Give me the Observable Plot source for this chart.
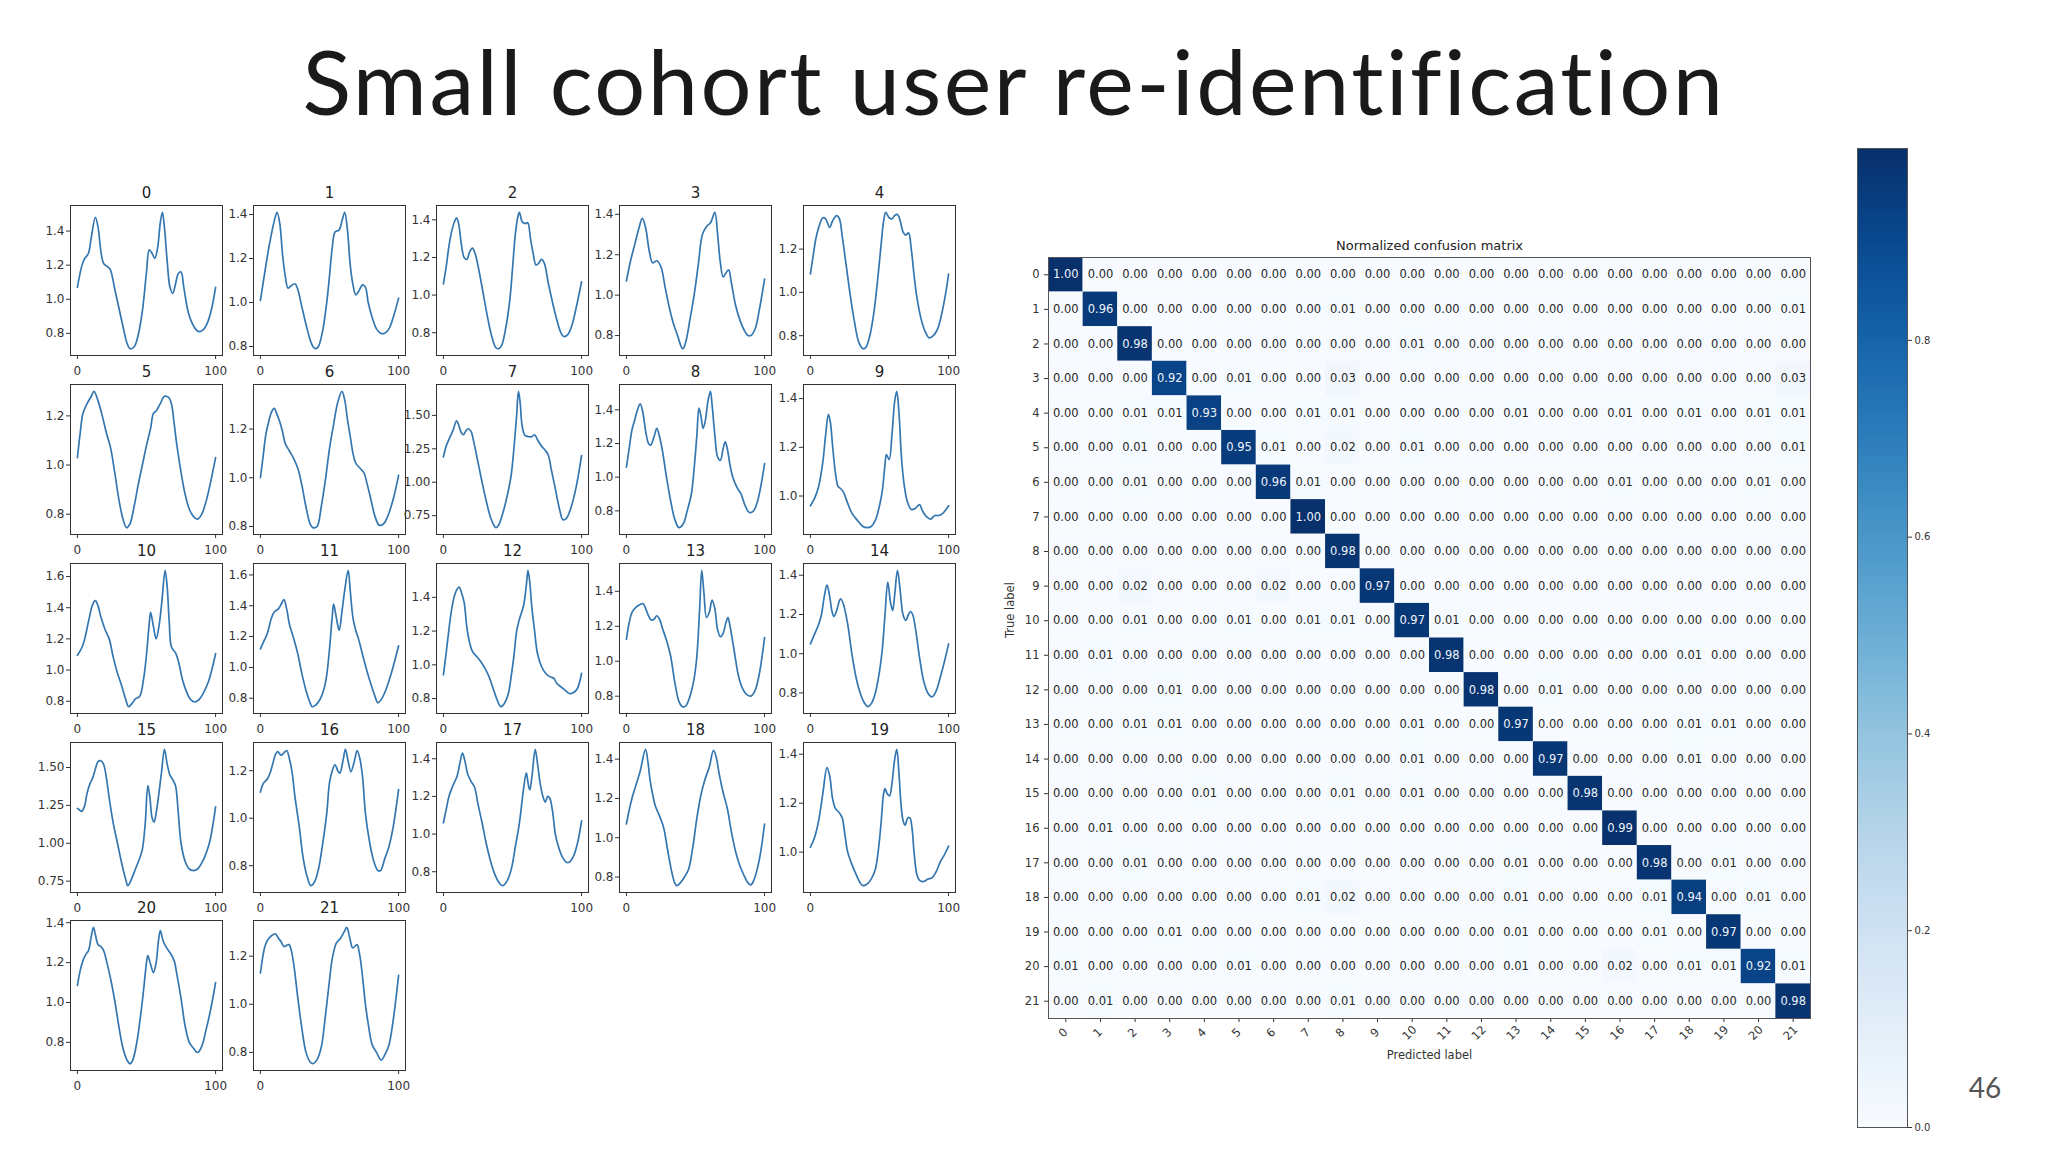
<!DOCTYPE html>
<html><head><meta charset="utf-8">
<script src="https://cdn.jsdelivr.net/npm/d3@7"></script>
<script src="https://cdn.jsdelivr.net/npm/@observablehq/plot@0.6"></script>
<style>
html,body{margin:0;padding:0;background:#fff;}
#slide{position:relative;width:2048px;height:1152px;overflow:hidden;background:#fff;font-family:"DejaVu Sans",sans-serif;}
.abs{position:absolute;}
#title{position:absolute;left:-10px;top:25px;width:2048px;text-align:center;font-family:Lato,"Open Sans",sans-serif;font-size:90px;line-height:110px;color:#1a1a1a;letter-spacing:2.5px;white-space:nowrap;}
#page{position:absolute;left:1960px;top:1070px;width:50px;text-align:center;font-family:Lato,sans-serif;font-size:28px;color:#555;}
</style></head>
<body><div id="slide"><div id="title">Small cohort user re-identification</div><div id="page">46</div></div>
<script>
// ---------- small-multiple signals: [t, value] ----------
const P0=[[0,1.07],[3,1.19],[5,1.235],[8,1.27],[10,1.36],[13,1.48],[15,1.42],[17,1.28],[19,1.21],[22,1.19],[24,1.17],[27,1.06],[30,0.95],[33,0.84],[36,0.74],[38,0.71],[41,0.72],[44,0.79],[47,0.93],[50,1.16],[52,1.29],[54,1.27],[56,1.24],[58,1.3],[60,1.45],[61.5,1.51],[63,1.42],[65,1.22],[67,1.07],[69,1.035],[71,1.09],[73,1.15],[75,1.16],[77,1.07],[80,0.93],[83,0.86],[86,0.82],[88,0.81],[91,0.82],[94,0.86],[97,0.94],[100,1.07]];
const P1=[[0,1.01],[2,1.09],[4,1.17],[7,1.28],[10,1.37],[12,1.41],[14,1.36],[16,1.22],[18,1.12],[20,1.065],[22,1.075],[25,1.085],[27,1.06],[30,0.98],[33,0.9],[36,0.83],[38,0.8],[40,0.79],[42,0.8],[45,0.87],[48,1.0],[50,1.12],[52,1.25],[54,1.32],[57,1.33],[59,1.37],[61,1.41],[63,1.33],[65,1.17],[67,1.08],[69,1.035],[71,1.05],[74,1.08],[76,1.07],[78,1.0],[81,0.93],[84,0.88],[87,0.86],[90,0.86],[93,0.88],[96,0.93],[100,1.02]];
const P2=[[0,1.06],[2,1.15],[4,1.26],[6,1.34],[8,1.39],[9.5,1.41],[11,1.38],[13,1.27],[15,1.2],[17,1.19],[19,1.23],[21,1.25],[23,1.22],[26,1.12],[29,1.0],[32,0.88],[35,0.78],[38,0.72],[40,0.715],[42,0.73],[45,0.82],[48,0.97],[50,1.14],[52,1.32],[54,1.42],[55,1.44],[57,1.39],[59,1.38],[61,1.385],[63,1.3],[65,1.22],[67,1.16],[69,1.17],[71,1.19],[73,1.17],[76,1.06],[79,0.96],[82,0.87],[85,0.8],[87,0.78],[90,0.79],[93,0.84],[96,0.93],[100,1.07]];
const P3=[[0,1.07],[3,1.17],[6,1.25],[9,1.33],[11.5,1.38],[14,1.33],[16.5,1.22],[19,1.16],[22,1.17],[25,1.14],[28,1.04],[31,0.94],[34,0.86],[37,0.8],[40,0.74],[41,0.735],[43,0.77],[46,0.88],[49,1.0],[52,1.15],[55,1.3],[58,1.34],[61,1.36],[64,1.41],[66,1.3],[68,1.16],[70,1.09],[72,1.11],[74,1.125],[76,1.06],[79,0.95],[82,0.88],[85,0.83],[88,0.8],[90,0.8],[93,0.83],[96,0.92],[100,1.08]];
const P4=[[0,1.085],[2,1.17],[4,1.25],[6,1.3],[9,1.345],[11,1.34],[14,1.3],[16,1.33],[19,1.355],[21,1.34],[23,1.26],[26,1.12],[29,0.98],[32,0.86],[35,0.77],[38,0.74],[40,0.745],[43,0.8],[46,0.91],[49,1.08],[51,1.21],[53,1.33],[54.5,1.37],[57,1.345],[59,1.34],[61,1.355],[63,1.36],[65,1.33],[67,1.28],[69,1.265],[71,1.275],[73,1.2],[75,1.08],[77,0.98],[80,0.88],[83,0.82],[86,0.79],[89,0.8],[92,0.83],[95,0.9],[98,1.0],[100,1.085]];
const P5=[[0,1.03],[2,1.13],[4,1.21],[7,1.25],[10,1.28],[12,1.3],[15,1.26],[18,1.2],[21,1.13],[24,1.07],[27,0.97],[30,0.86],[33,0.78],[35.5,0.745],[38,0.76],[41,0.83],[44,0.92],[47,1.0],[50,1.08],[53,1.15],[55,1.21],[57,1.22],[60,1.25],[63,1.28],[66,1.275],[68,1.25],[70,1.17],[72,1.08],[75,0.97],[78,0.88],[81,0.82],[84,0.79],[87,0.78],[90,0.8],[93,0.85],[96,0.92],[100,1.03]];
const P6=[[0,1.0],[2,1.09],[4,1.18],[6,1.23],[8,1.27],[10,1.285],[12,1.26],[14,1.23],[16,1.19],[18,1.14],[21,1.11],[24,1.08],[27,1.04],[30,0.97],[33,0.88],[36,0.81],[38,0.795],[41,0.8],[44,0.88],[47,0.99],[50,1.12],[53,1.22],[56,1.31],[59,1.355],[61,1.32],[63,1.24],[65,1.17],[67,1.1],[69,1.06],[72,1.04],[75,1.02],[77,0.98],[80,0.91],[83,0.84],[86,0.805],[89,0.81],[92,0.84],[96,0.91],[100,1.01]];
const P7=[[0,1.19],[2,1.27],[4,1.32],[7,1.39],[9.5,1.46],[11,1.43],[13,1.37],[14.5,1.355],[16,1.38],[18,1.4],[20,1.38],[22,1.3],[25,1.15],[28,1.0],[31,0.86],[34,0.74],[37,0.67],[38,0.66],[40,0.68],[43,0.77],[46,0.89],[49,1.05],[51,1.25],[53,1.5],[54.3,1.68],[55.5,1.6],[57,1.42],[59,1.35],[62,1.34],[64,1.34],[66,1.355],[68,1.32],[71,1.27],[74,1.235],[76,1.2],[78,1.1],[81,0.95],[84,0.8],[86.5,0.72],[89,0.73],[92,0.8],[96,0.96],[100,1.2]];
const P8=[[0,1.06],[2,1.17],[4,1.28],[6,1.34],[8,1.4],[10,1.435],[12,1.38],[14,1.27],[16,1.2],[17.5,1.19],[20,1.24],[22,1.29],[24,1.24],[26,1.16],[29,1.0],[32,0.86],[35,0.75],[38,0.7],[41,0.72],[44,0.8],[47,0.9],[49,1.05],[51,1.25],[52.5,1.41],[54,1.36],[55.5,1.29],[57,1.33],[59,1.45],[60.8,1.51],[62,1.43],[64,1.25],[66,1.12],[68,1.1],[70,1.17],[71.5,1.21],[73,1.17],[75,1.07],[77,1.0],[80,0.94],[83,0.9],[86,0.83],[89,0.79],[92,0.8],[95,0.86],[100,1.08]];
const P9=[[0,0.96],[3,0.99],[6,1.04],[9,1.14],[11,1.25],[13,1.335],[14.5,1.3],[16,1.21],[18,1.1],[20,1.04],[22,1.03],[24,1.015],[27,0.97],[30,0.93],[34,0.9],[38,0.875],[41,0.87],[44,0.875],[47,0.9],[50,0.96],[52,1.02],[54,1.13],[55,1.17],[57,1.15],[59,1.25],[61,1.39],[62.5,1.43],[64,1.35],[66,1.15],[68,1.04],[70,0.98],[73,0.945],[76,0.95],[79,0.965],[81,0.94],[84,0.915],[87,0.905],[90,0.92],[93,0.92],[96,0.93],[100,0.96]];
const P10=[[0,1.095],[3,1.14],[5,1.19],[8,1.31],[11,1.42],[13,1.445],[15,1.41],[17,1.34],[20,1.26],[23,1.2],[26,1.08],[29,0.98],[32,0.9],[35,0.81],[37,0.765],[39,0.78],[42,0.815],[45,0.83],[48,0.95],[50,1.1],[52,1.3],[53,1.37],[55,1.28],[57,1.2],[59,1.28],[61,1.43],[63.5,1.64],[65,1.53],[66.5,1.3],[68,1.15],[71,1.11],[73,1.06],[76,0.94],[79,0.86],[82,0.81],[85,0.795],[88,0.81],[91,0.85],[95,0.93],[100,1.105]];
const P11=[[0,1.12],[3,1.18],[5,1.22],[8,1.32],[10,1.36],[13,1.38],[15,1.41],[17,1.44],[19,1.38],[21,1.28],[24,1.19],[27,1.09],[30,0.96],[33,0.85],[36,0.77],[37.5,0.745],[40,0.755],[43,0.79],[46,0.86],[48,0.95],[50,1.12],[52,1.33],[53,1.41],[55,1.32],[57,1.24],[59,1.36],[61,1.5],[63.5,1.63],[65,1.5],[67,1.32],[69,1.24],[71,1.185],[74,1.08],[77,0.98],[80,0.89],[83,0.81],[85,0.77],[88,0.8],[91,0.86],[95,0.97],[100,1.14]];
const P12=[[0,0.94],[2,1.07],[4,1.21],[6,1.33],[8,1.41],[10,1.45],[11.5,1.46],[13,1.43],[15,1.37],[17,1.22],[19,1.13],[21,1.08],[24,1.05],[27,1.02],[30,0.98],[33,0.93],[36,0.86],[39,0.79],[41.5,0.752],[44,0.77],[47,0.83],[49,0.93],[51,1.05],[53,1.2],[55,1.27],[58,1.35],[60,1.47],[61.2,1.56],[62.5,1.49],[64,1.34],[66,1.2],[68,1.07],[71,0.99],[74,0.95],[77,0.93],[80,0.92],[82,0.89],[85,0.87],[88,0.85],[91,0.83],[94,0.835],[97,0.86],[100,0.95]];
const P13=[[0,1.125],[2,1.22],[4,1.28],[7,1.31],[10,1.325],[12,1.33],[14,1.3],[16,1.26],[18,1.235],[20,1.24],[22,1.26],[24,1.24],[26,1.19],[29,1.12],[32,1.03],[35,0.88],[38,0.77],[40.5,0.74],[43,0.745],[46,0.8],[49,0.9],[51,1.03],[53,1.3],[54.5,1.52],[56,1.4],[58,1.25],[60,1.28],[62,1.35],[64,1.3],[66,1.18],[68,1.14],[70,1.16],[72,1.22],[73.5,1.25],[75,1.2],[78,1.06],[81,0.92],[84,0.845],[87,0.81],[90,0.8],[93,0.83],[96,0.92],[100,1.135]];
const P14=[[0,1.05],[3,1.1],[6,1.15],[8,1.2],[10,1.29],[12,1.35],[14,1.29],[15.5,1.22],[17,1.19],[19,1.22],[21,1.27],[22,1.28],[24,1.25],[27,1.15],[30,1.0],[33,0.88],[36,0.8],[39,0.75],[41.5,0.73],[44,0.745],[47,0.8],[50,0.91],[52,1.02],[54,1.2],[56,1.365],[58,1.26],[59.5,1.22],[61,1.3],[63,1.425],[65,1.32],[67,1.2],[69,1.17],[71,1.2],[72.5,1.215],[74,1.2],[76,1.13],[79,0.98],[82,0.86],[85,0.8],[88,0.78],[91,0.81],[94,0.88],[97,0.96],[100,1.05]];
const P15=[[0,1.23],[1.5,1.22],[3,1.21],[5,1.24],[7,1.33],[9,1.39],[11,1.43],[13,1.49],[15,1.54],[17,1.545],[19,1.52],[21,1.43],[23,1.3],[26,1.13],[29,1.0],[32,0.87],[35,0.76],[36.5,0.72],[39,0.76],[42,0.83],[45,0.9],[47,0.96],[49,1.12],[51,1.38],[52.5,1.3],[54,1.17],[55.5,1.14],[57,1.2],[59,1.33],[61,1.48],[63,1.62],[65,1.52],[67,1.45],[69,1.42],[71,1.38],[73,1.2],[75,1.0],[78,0.88],[81,0.83],[84,0.82],[87,0.83],[90,0.87],[93,0.93],[96,1.02],[100,1.24]];
const P16=[[0,1.11],[2,1.145],[5,1.165],[7,1.19],[9,1.23],[11,1.27],[12.5,1.28],[15,1.265],[17,1.275],[19,1.285],[21,1.25],[23,1.19],[25,1.09],[28,0.97],[31,0.83],[34,0.75],[36.5,0.716],[39,0.73],[42,0.785],[45,0.89],[48,1.02],[50,1.15],[52,1.2],[54,1.225],[56,1.2],[57.5,1.19],[60,1.25],[61.5,1.29],[63.5,1.24],[65.5,1.196],[68,1.24],[70,1.285],[72,1.25],[74,1.17],[76,1.02],[79,0.9],[82,0.82],[85,0.78],[87,0.78],[90,0.83],[93,0.88],[96,0.96],[100,1.12]];
const P17=[[0,1.06],[2,1.13],[4,1.2],[7,1.26],[10,1.31],[12,1.38],[13.8,1.43],[15.5,1.39],[17.5,1.32],[20,1.28],[22.5,1.25],[25,1.16],[28,1.06],[31,0.95],[34,0.86],[37,0.79],[40,0.745],[43,0.726],[46,0.75],[49,0.81],[52,0.93],[55,1.06],[58,1.24],[60,1.325],[61.5,1.26],[62.5,1.235],[64,1.3],[66.4,1.45],[68,1.38],[70,1.27],[72,1.2],[73.7,1.17],[75.5,1.2],[77,1.19],[79,1.12],[81,1.0],[83,0.94],[86,0.88],[89,0.85],[91,0.85],[94,0.88],[97,0.95],[100,1.07]];
const P18=[[0,1.07],[2,1.14],[4,1.2],[7,1.27],[10,1.34],[13.8,1.45],[15.5,1.39],[17,1.3],[19,1.22],[21,1.16],[24,1.11],[27,1.05],[30,0.93],[33,0.82],[35,0.77],[36.5,0.756],[39,0.77],[42,0.8],[45,0.84],[48,0.95],[51,1.1],[54,1.22],[57,1.3],[60,1.36],[63,1.445],[65,1.41],[67,1.33],[70,1.23],[73,1.15],[76,1.03],[79,0.93],[82,0.86],[85,0.81],[88,0.77],[90,0.76],[92,0.78],[95,0.85],[97,0.92],[100,1.07]];
const P19=[[0,1.02],[3,1.06],[6,1.13],[9,1.24],[12,1.345],[14,1.31],[16,1.22],[18,1.18],[21,1.16],[23,1.14],[25,1.07],[27,1.0],[30,0.95],[33,0.91],[36,0.875],[38,0.863],[41,0.87],[44,0.89],[47,0.93],[49,1.0],[51,1.11],[53,1.24],[54,1.26],[55.5,1.24],[57.3,1.23],[59,1.28],[61,1.38],[62.5,1.42],[64,1.33],[65.5,1.2],[67,1.13],[68.5,1.11],[70.5,1.14],[72,1.14],[73.5,1.1],[75,1.0],[77,0.91],[79,0.885],[82,0.88],[85,0.89],[88,0.895],[91,0.92],[94,0.96],[97,0.99],[100,1.025]];
const P20=[[0,1.085],[2,1.16],[4,1.21],[6,1.24],[8,1.26],[10,1.33],[11.6,1.377],[13,1.34],[15,1.29],[17,1.28],[19,1.26],[21,1.21],[24,1.12],[27,1.01],[30,0.88],[33,0.77],[36,0.71],[38,0.693],[40,0.71],[43,0.8],[46,0.95],[48,1.07],[50,1.2],[51,1.235],[53,1.19],[55,1.15],[57,1.2],[58.5,1.3],[60,1.36],[62,1.31],[64,1.28],[67,1.25],[70,1.21],[72,1.14],[75,1.02],[78,0.88],[81,0.8],[84,0.77],[87,0.749],[90,0.78],[93,0.86],[96,0.95],[100,1.1]];
const P21=[[0,1.13],[1.5,1.19],[3,1.235],[5,1.265],[8,1.285],[10.8,1.293],[13,1.275],[15,1.26],[17,1.24],[19,1.245],[20.7,1.248],[22.5,1.22],[24.5,1.15],[27,1.03],[30,0.9],[33,0.8],[36,0.76],[38,0.753],[41,0.77],[44,0.82],[47,0.95],[50,1.1],[52,1.19],[55,1.255],[58,1.275],[60.5,1.3],[62.5,1.32],[64.5,1.28],[66.8,1.234],[69,1.245],[70,1.248],[72,1.2],[74,1.11],[76,1.0],[78,0.92],[81,0.83],[84,0.8],[87.5,0.768],[90,0.79],[93,0.83],[96,0.93],[100,1.12]];

// y tick values shown in each panel
const yTicks=[
 [0.8,1.0,1.2,1.4],[0.8,1.0,1.2,1.4],[0.8,1.0,1.2,1.4],[0.8,1.0,1.2,1.4],[0.8,1.0,1.2],
 [0.8,1.0,1.2],[0.8,1.0,1.2],[0.75,1.0,1.25,1.5],[0.8,1.0,1.2,1.4],[1.0,1.2,1.4],
 [0.8,1.0,1.2,1.4,1.6],[0.8,1.0,1.2,1.4,1.6],[0.8,1.0,1.2,1.4],[0.8,1.0,1.2,1.4],[0.8,1.0,1.2,1.4],
 [0.75,1.0,1.25,1.5],[0.8,1.0,1.2],[0.8,1.0,1.2,1.4],[0.8,1.0,1.2,1.4],[1.0,1.2,1.4],
 [0.8,1.0,1.2,1.4],[0.8,1.0,1.2]
];
const xTicks=[0,100];

// ---------- normalized confusion matrix (rows = true label) ----------
const classLabels=d3.range(22);
const confusion=[
 [1.00,0,0,0,0,0,0,0,0,0,0,0,0,0,0,0,0,0,0,0,0,0],
 [0,0.96,0,0,0,0,0,0,0.01,0,0,0,0,0,0,0,0,0,0,0,0,0.01],
 [0,0,0.98,0,0,0,0,0,0,0,0.01,0,0,0,0,0,0,0,0,0,0,0],
 [0,0,0,0.92,0,0.01,0,0,0.03,0,0,0,0,0,0,0,0,0,0,0,0,0.03],
 [0,0,0.01,0.01,0.93,0,0,0.01,0.01,0,0,0,0,0.01,0,0,0.01,0,0.01,0,0.01,0.01],
 [0,0,0.01,0,0,0.95,0.01,0,0.02,0,0.01,0,0,0,0,0,0,0,0,0,0,0.01],
 [0,0,0.01,0,0,0,0.96,0.01,0,0,0,0,0,0,0,0,0.01,0,0,0,0.01,0],
 [0,0,0,0,0,0,0,1.00,0,0,0,0,0,0,0,0,0,0,0,0,0,0],
 [0,0,0,0,0,0,0,0,0.98,0,0,0,0,0,0,0,0,0,0,0,0,0],
 [0,0,0.02,0,0,0,0.02,0,0,0.97,0,0,0,0,0,0,0,0,0,0,0,0],
 [0,0,0.01,0,0,0.01,0,0.01,0.01,0,0.97,0.01,0,0,0,0,0,0,0,0,0,0],
 [0,0.01,0,0,0,0,0,0,0,0,0,0.98,0,0,0,0,0,0,0.01,0,0,0],
 [0,0,0,0.01,0,0,0,0,0,0,0,0,0.98,0,0.01,0,0,0,0,0,0,0],
 [0,0,0.01,0.01,0,0,0,0,0,0,0.01,0,0,0.97,0,0,0,0,0.01,0.01,0,0],
 [0,0,0,0,0,0,0,0,0,0,0.01,0,0,0,0.97,0,0,0,0.01,0,0,0],
 [0,0,0,0,0.01,0,0,0,0.01,0,0.01,0,0,0,0,0.98,0,0,0,0,0,0],
 [0,0.01,0,0,0,0,0,0,0,0,0,0,0,0,0,0,0.99,0,0,0,0,0],
 [0,0,0.01,0,0,0,0,0,0,0,0,0,0,0.01,0,0,0,0.98,0,0.01,0,0],
 [0,0,0,0,0,0,0,0.01,0.02,0,0,0,0,0.01,0,0,0,0.01,0.94,0,0.01,0],
 [0,0,0,0.01,0,0,0,0,0,0,0,0,0,0.01,0,0,0,0.01,0,0.97,0,0],
 [0.01,0,0,0,0,0.01,0,0,0,0,0,0,0,0.01,0,0,0.02,0,0.01,0.01,0.92,0.01],
 [0,0.01,0,0,0,0,0,0,0.01,0,0,0,0,0,0,0,0,0,0,0,0,0.98]
];
const colorbarTicks=[0,0.2,0.4,0.6,0.8];
const vmax=0.995;

// ---------- layout ----------
const slide=document.getElementById("slide");
function place(node,left,top){const d=document.createElement("div");d.className="abs";d.style.left=left+"px";d.style.top=top+"px";d.appendChild(node);slide.appendChild(d);}

const curves=[P0,P1,P2,P3,P4,P5,P6,P7,P8,P9,P10,P11,P12,P13,P14,P15,P16,P17,P18,P19,P20,P21];
const colLeft=[70,253,436,619,803], rowTop=[205,384,563,742,920];
const BW=152,BH=150,ML=40,MR=6,MT=30,MB=28;
curves.forEach((pts,i)=>{
  const data=pts.map(([t,v])=>({t,v}));
  const lo=d3.min(pts,p=>p[1]), hi=d3.max(pts,p=>p[1]), r=hi-lo;
  const ticks=yTicks[i];
  const fmt=ticks.some(t=>Math.round(t*100)%10!==0)?d3.format(".2f"):d3.format(".1f");
  const p=Plot.plot({
    width:BW+ML+MR,height:BH+MT+MB,marginLeft:ML,marginRight:MR,marginTop:MT,marginBottom:MB,
    style:{background:"transparent",fontFamily:"'DejaVu Sans',sans-serif",fontSize:"12px",color:"#333"},
    x:{domain:[-5,105],ticks:xTicks,tickFormat:d=>String(d),tickSize:4,tickPadding:7,label:null},
    y:{domain:[lo-0.05*r,hi+0.05*r],ticks:ticks,tickFormat:fmt,tickSize:4,tickPadding:2,label:null},
    marks:[
      Plot.line(data,{x:"t",y:"v",stroke:"#3477b0",strokeWidth:1.7,curve:"catmull-rom"}),
      Plot.frame({stroke:"#333",strokeWidth:1}),
      Plot.text([String(i)],{text:d=>d,frameAnchor:"top",dy:-18,fontSize:15,fill:"#222"})
    ]
  });
  place(p,colLeft[i%5]-ML,rowTop[Math.floor(i/5)]-MT);
});

// confusion matrix
const cm=[];
confusion.forEach((row,i)=>row.forEach((v,j)=>cm.push({row:i,col:j,v})));
const CW=762,CH=761,CML=52,CMR=8,CMT=30,CMB=62;
const cmPlot=Plot.plot({
  width:CW+CML+CMR,height:CH+CMT+CMB,marginLeft:CML,marginRight:CMR,marginTop:CMT,marginBottom:CMB,
  style:{background:"transparent",fontFamily:"'DejaVu Sans',sans-serif",fontSize:"11.5px",color:"#333"},
  x:{type:"band",domain:classLabels,padding:0,round:false,tickSize:4,tickFormat:()=>"",label:null},
  y:{type:"band",domain:classLabels,padding:0,round:false,tickSize:4,tickPadding:5,label:null},
  color:{type:"linear",scheme:"blues",domain:[0,vmax]},
  marks:[
    Plot.cell(cm,{x:"col",y:"row",fill:"v",inset:0}),
    Plot.text(cm.filter(d=>d.v<=vmax/2),{x:"col",y:"row",text:d=>d.v.toFixed(2),fill:"#262626",fontSize:11.5}),
    Plot.text(cm.filter(d=>d.v>vmax/2),{x:"col",y:"row",text:d=>d.v.toFixed(2),fill:"#eef4fb",fontSize:11.5}),
    Plot.frame({stroke:"#555"}),
    Plot.text(classLabels,{x:d=>d,text:d=>String(d),frameAnchor:"bottom",dy:17,rotate:-45,fontSize:11.5,fill:"#333"}),
    Plot.text(["Predicted label"],{text:d=>d,frameAnchor:"bottom",dy:40,fontSize:11.5,fill:"#333"}),
    Plot.text(["True label"],{text:d=>d,frameAnchor:"left",dx:-38,rotate:-90,fontSize:11.5,fill:"#333"}),
    Plot.text(["Normalized confusion matrix"],{text:d=>d,frameAnchor:"top",dy:-17,fontSize:13,fill:"#222"})
  ]
});
place(cmPlot,1048-CML,257-CMT);

// colorbar
const nb=200;
const bands=d3.range(nb).map(k=>k*vmax/nb);
const BML=2,BMR=40,BMT=10,BMB=15;
const cb=Plot.plot({
  width:50+BML+BMR,height:979+BMT+BMB,marginLeft:BML,marginRight:BMR,marginTop:BMT,marginBottom:BMB,
  style:{background:"transparent",fontFamily:"'DejaVu Sans',sans-serif",fontSize:"10px",color:"#333"},
  x:{domain:[0,1],axis:null},
  y:{domain:[0,vmax],axis:"right",ticks:colorbarTicks,tickFormat:d3.format(".1f"),tickSize:4,tickPadding:3,label:null},
  color:{type:"linear",scheme:"blues",domain:[0,vmax]},
  marks:[
    Plot.rect(bands,{x1:0,x2:1,y1:d=>d,y2:d=>Math.min(vmax,d+vmax/nb*1.5),fill:d=>d+vmax/nb/2}),
    Plot.frame({stroke:"#555"})
  ]
});
place(cb,1857-BML,148-BMT);
</script>
</body></html>
